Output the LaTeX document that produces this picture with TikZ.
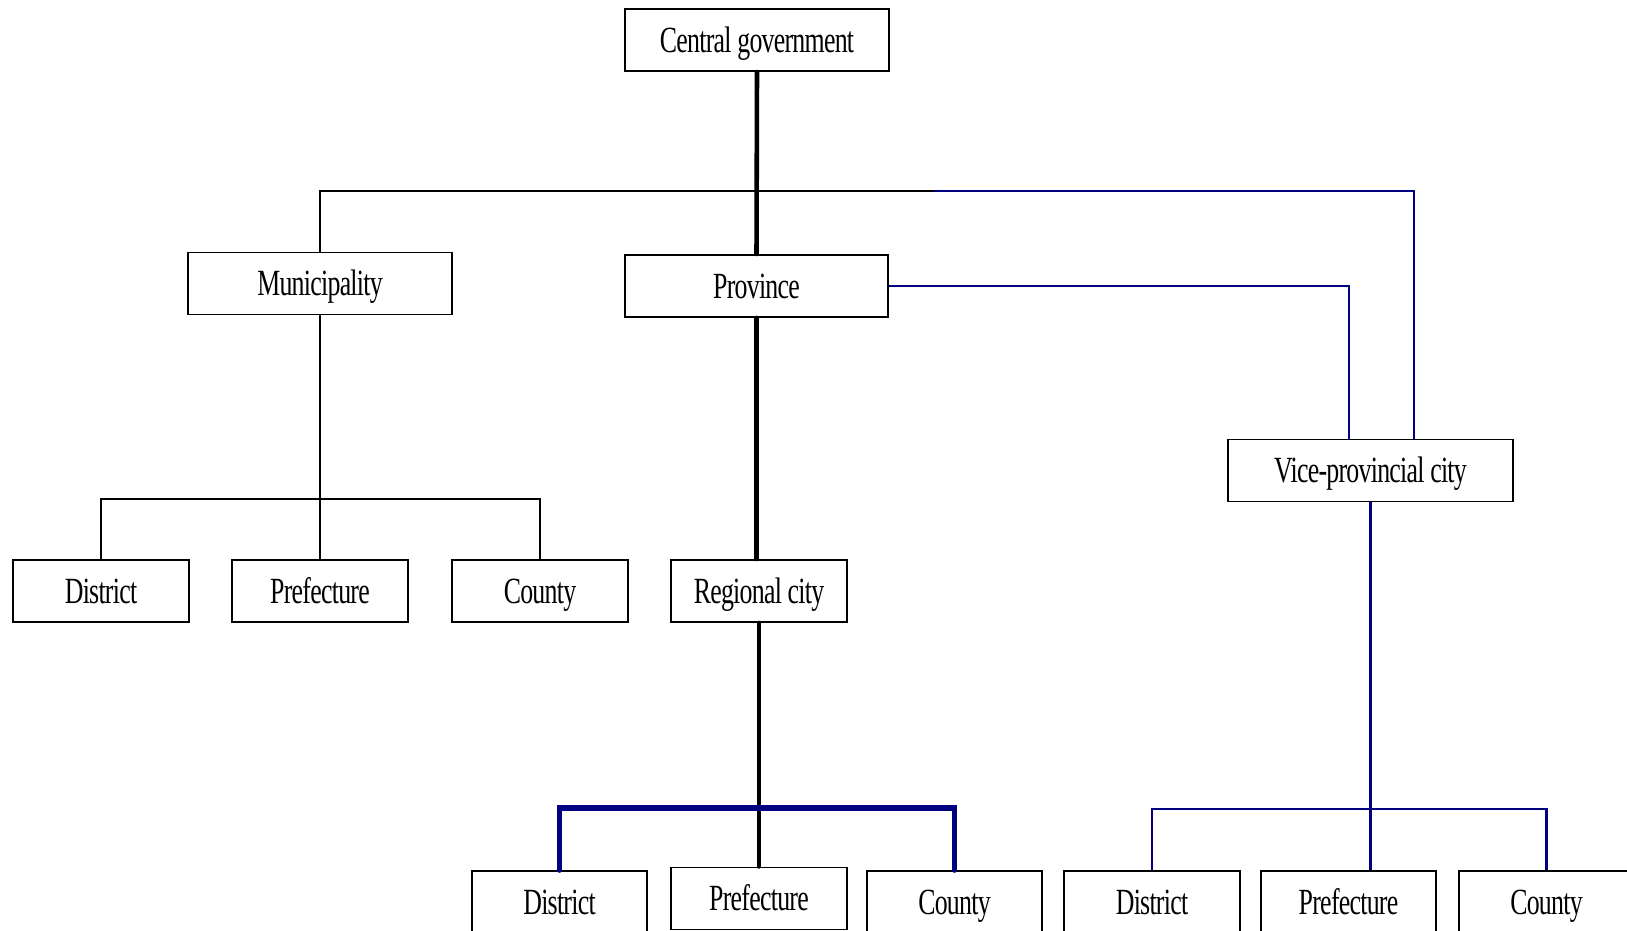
\documentclass[tikz,border=0pt]{standalone}
\usepackage{fontspec}
\setmainfont[FakeStretch=0.7, LetterSpace=-2]{Liberation Serif}
\usepackage{tikz}
\usetikzlibrary{positioning}
\definecolor{govblue}{RGB}{0,0,128}

\begin{document}
\begin{tikzpicture}[x=0.01cm, y=-0.01cm,
    every node/.style={draw, rectangle, line width=0.55pt, inner sep=0pt,
        text height=6.9pt, text depth=0pt,
        font=\fontsize{10.5}{12}\selectfont}, align=center,
    big/.style={minimum width=2.63cm, minimum height=0.62cm},
    small/.style={minimum width=1.75cm, minimum height=0.62cm},
    thinline/.style={line width=0.6pt},
    thickline/.style={line width=1.3pt, line cap=round},
    blueline/.style={govblue, line width=0.6pt},
    bluethick/.style={govblue, line width=1.6pt, line cap=round}]
    \useasboundingbox (0,0) rectangle (1627,930);

    \node[big] (Central) at (757,40) {Central government};
    \node[big] (Muni) at (320,283.5) {Municipality};
    \node[big] (Prov) at (756.5,286) {Province};
    \node[big, minimum width=2.85cm] (Vice) at (1370.5,470.5) {Vice-provincial city};

    \node[small] (LDist) at (101,591) {District};
    \node[small] (LPref) at (320,591) {Prefecture};
    \node[small] (LCounty) at (540,591) {County};
    \node[small] (Regional) at (759,591) {Regional city};

    \node[small] (MDist) at (559.5,902) {District};
    \node[small] (MPref) at (759,898.5) {Prefecture};
    \node[small] (MCounty) at (954.5,902) {County};
    \node[small] (RDist) at (1152,902) {District};
    \node[small] (RPref) at (1348.5,902) {Prefecture};
    \node[small] (RCounty) at (1546.5,902) {County};

    \coordinate (split) at (934,191);
    \coordinate (lbar) at (320,499);
    \coordinate (mbar) at (759,808);
    \coordinate (rbar) at (1369,809);

    % central line
    \draw[thickline] (Central.south) -- (Prov.north);
    \draw[thickline] (Prov.south) -- (Prov.south |- Regional.north);
    \draw[thickline] (Regional.south) -- (MPref.north);

    % top bar
    \draw[thinline] (Muni.north) |- (split);
    \draw[blueline] (split) -| ([xshift=0.435cm]Vice.north);
    \draw[blueline] (Prov.east) -| ([xshift=-0.215cm]Vice.north);

    % municipality
    \draw[thinline] (Muni.south) -- (LPref.north);
    \draw[thinline] (LDist.north) |- (lbar) -| (LCounty.north);

    % regional city
    \draw[bluethick] (MDist.north) |- (mbar) -| (MCounty.north);

    % vice-provincial city
    \draw[blueline] (Vice.south) -- (Vice.south |- RPref.north);
    \draw[blueline] (RDist.north) |- (rbar) -| (RCounty.north);
\end{tikzpicture}
\end{document}
